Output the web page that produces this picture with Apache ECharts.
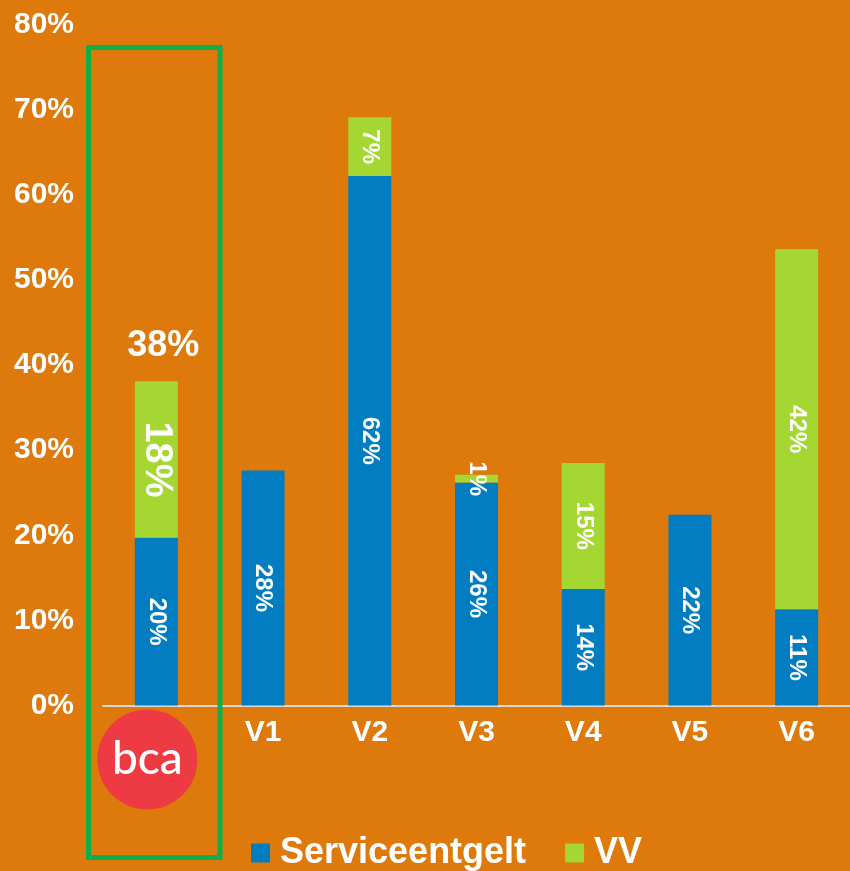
<!DOCTYPE html>
<html>
<head>
<meta charset="utf-8">
<script src="https://cdn.jsdelivr.net/npm/echarts@6/dist/echarts.min.js"></script>
<style>
  html, body { margin: 0; padding: 0; background: #DE7A0C; }
  #chart { width: 850px; height: 871px; }
</style>
</head>
<body>
<div id="chart"></div>
<script>
// Daten (Prozent)
var categories = ['bca', 'V1', 'V2', 'V3', 'V4', 'V5', 'V6'];
var serviceValues = [19.7, 27.6, 62.2, 26.2, 13.7, 22.4, 11.3];
var vvValues = [18.4, '-', 6.9, 0.9, 14.8, '-', 42.3];
var yTicks = { min: 0, max: 80, interval: 10 };

var totals = categories.map(function (c, i) {
  var v = vvValues[i] === '-' ? 0 : vvValues[i];
  return serviceValues[i] + v;
});

function pct(v) { return Math.round(v) + '%'; }

var barLabel = {
  show: true, position: 'inside', rotate: -90,
  color: '#fff', fontSize: 24, fontWeight: 'bold',
  formatter: function (p) { return pct(p.value); }
};

var vvData = vvValues.map(function (v, i) {
  if (i === 0) return { value: v, label: { fontSize: 38 } };
  return v;
});

var totalData = categories.map(function (c, i) {
  return i === 0 ? { value: 0, label: { show: true } } : '-';
});

var myChart = echarts.init(document.getElementById('chart'));
var option = {
  backgroundColor: '#DE7A0C',
  textStyle: { fontFamily: 'Liberation Sans, Arial, sans-serif' },
  animation: false,
  grid: { left: 103, right: 0, top: 24.5, bottom: 165.5 },
  legend: {
    data: ['Serviceentgelt', 'VV'],
    left: 246, top: 830,
    icon: 'rect', itemWidth: 19, itemHeight: 19, itemGap: 39,
    textStyle: { color: '#fff', fontSize: 36, fontWeight: 'bold', padding: [0, 0, 0, 5] }
  },
  xAxis: {
    type: 'category',
    data: categories,
    axisLine: { lineStyle: { color: '#d9d9d9', width: 2 } },
    axisTick: { show: false },
    axisLabel: {
      margin: 4,
      interval: 0,
      formatter: function (v) {
        return v === 'bca' ? '{logo|bca}{sp| }' : '{v|' + v + '}';
      },
      rich: {
        logo: {
          width: 100, height: 100, lineHeight: 100, borderRadius: 50,
          backgroundColor: '#EE3A43', color: '#fff',
          fontSize: 46, fontFamily: 'Lato', fontWeight: 500, align: 'center'
        },
        sp: { width: 18 },
        v: { color: '#fff', fontSize: 30, fontWeight: 'bold', lineHeight: 30, padding: [17, 0, 0, 0] }
      }
    }
  },
  yAxis: {
    type: 'value',
    min: yTicks.min, max: yTicks.max, interval: yTicks.interval,
    splitLine: { show: false },
    axisLine: { show: false },
    axisTick: { show: false },
    axisLabel: {
      color: '#fff', fontSize: 30, fontWeight: 'bold', margin: 29,
      padding: [4, 0, 0, 0], formatter: '{value}%'
    }
  },
  graphic: [
    {
      type: 'rect',
      shape: { x: 88.5, y: 47.5, width: 131.5, height: 810 },
      style: { fill: 'none', stroke: '#0BB04B', lineWidth: 5 },
      z: 100
    }
  ],
  series: [
    {
      name: 'Serviceentgelt', type: 'bar', stack: 'a', barWidth: 43,
      itemStyle: { color: '#027DC1' },
      label: barLabel,
      data: serviceValues
    },
    {
      name: 'VV', type: 'bar', stack: 'a', barWidth: 43,
      itemStyle: { color: '#A5D732' },
      label: barLabel,
      data: vvData
    },
    {
      name: 'Gesamt', type: 'bar', stack: 'a', barWidth: 43,
      itemStyle: { color: 'transparent' },
      label: {
        show: false, position: 'top', distance: 17, offset: [7, 0],
        color: '#fff', fontSize: 36, fontWeight: 'bold',
        formatter: function (p) { return pct(totals[p.dataIndex]); }
      },
      data: totalData
    }
  ]
};
myChart.setOption(option);
</script>
</body>
</html>
